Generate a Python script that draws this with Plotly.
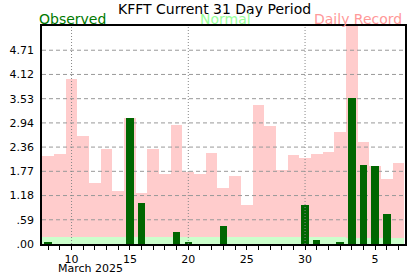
import plotly.graph_objects as go

# ---- data ----
dates = ["2025-03-08", "2025-03-09", "2025-03-10", "2025-03-11", "2025-03-12", "2025-03-13",
         "2025-03-14", "2025-03-15", "2025-03-16", "2025-03-17", "2025-03-18", "2025-03-19",
         "2025-03-20", "2025-03-21", "2025-03-22", "2025-03-23", "2025-03-24", "2025-03-25",
         "2025-03-26", "2025-03-27", "2025-03-28", "2025-03-29", "2025-03-30", "2025-03-31",
         "2025-04-01", "2025-04-02", "2025-04-03", "2025-04-04", "2025-04-05", "2025-04-06",
         "2025-04-07"]
record = [2.13, 2.19, 4.00, 2.62, 1.49, 2.31, 1.30, 3.06, 1.25, 2.31, 1.71, 2.89, 1.74, 1.69,
          2.22, 1.37, 1.66, 0.94, 3.37, 2.87, 1.81, 2.17, 2.09, 2.19, 2.24, 2.72, 5.60, 2.48,
          1.90, 1.59, 1.97]
normal = [0.17, 0.16, 0.17, 0.16, 0.16, 0.16, 0.17, 0.17, 0.17, 0.17, 0.17, 0.17, 0.17, 0.17,
          0.17, 0.17, 0.17, 0.17, 0.17, 0.17, 0.17, 0.17, 0.17, 0.17, 0.16, 0.16, 0.15, 0.15,
          0.15, 0.15, 0.15]
observed = [0.05, 0.0, 0.0, 0.0, 0.0, 0.0, 0.0, 3.06, 0.99, 0.0, 0.0, 0.30, 0.05, 0.0,
            0.0, 0.43, 0.0, 0.0, 0.0, 0.0, 0.0, 0.0, 0.96, 0.10, 0.0, 0.05, 3.54, 1.93,
            1.90, 0.72, 0.0]

y_max = 5.30
ytick_vals = [0.0, 0.589, 1.178, 1.767, 2.356, 2.944, 3.533, 4.122, 4.711, 5.30]
ytick_text = [".00", ".59", "1.18", "1.77", "2.36", "2.94", "3.53", "4.12", "4.71", ""]
xtick_vals = ["2025-03-10", "2025-03-15", "2025-03-20", "2025-03-25", "2025-03-30", "2025-04-05"]
xtick_text = ["10", "15", "20", "25", "30", "5"]
vline_dates = ["2025-03-10", "2025-03-20", "2025-03-30"]
x_range = ["2025-03-07 11:17", "2025-04-07 13:26"]

DAY_MS = 86400000
FONT = "DejaVu Sans"

fig = go.Figure()

# base layer: record + normal
fig.add_trace(go.Bar(x=dates, y=record, width=DAY_MS, marker=dict(color="#FFCCCC", line=dict(width=0)),
                     hoverinfo="skip", showlegend=False))
fig.add_trace(go.Bar(x=dates, y=normal, width=DAY_MS, marker=dict(color="#CCFFCC", line=dict(width=0)),
                     hoverinfo="skip", showlegend=False))

# horizontal dashed gridlines (above record bars, below observed bars)
for v in ytick_vals[1:-1]:
    fig.add_trace(go.Scatter(x=x_range, y=[v, v], mode="lines",
                             line=dict(color="#999999", width=1, dash="4px,3px"),
                             hoverinfo="skip", showlegend=False))

# overlay layer: observed + vertical dotted lines
fig.add_trace(go.Bar(x=dates, y=observed, width=DAY_MS * 0.64, marker=dict(color="#006600", line=dict(width=0)),
                     hoverinfo="skip", showlegend=False, xaxis="x2", yaxis="y2"))
for d in vline_dates:
    fig.add_trace(go.Scatter(x=[d, d], y=[0, y_max], mode="lines",
                             line=dict(color="#888888", width=1, dash="1px,2px"),
                             hoverinfo="skip", showlegend=False, xaxis="x2", yaxis="y2"))

fig.update_layout(
    width=417, height=276,
    margin=dict(l=35.5, r=10, t=26, b=30),
    paper_bgcolor="white", plot_bgcolor="white",
    barmode="overlay", bargap=0,
    font=dict(family=FONT, size=11, color="black"),
    xaxis=dict(type="date", range=x_range, tickvals=xtick_vals, ticktext=xtick_text,
               ticks="outside", ticklen=4, tickcolor="black", tickwidth=1,
               minor=dict(dtick=DAY_MS, tick0="2025-03-08", ticks="outside", ticklen=4,
                          tickcolor="black", tickwidth=1, showgrid=False),
               showgrid=False, zeroline=False, showline=True, linecolor="black", linewidth=1.5,
               mirror=True, tickfont=dict(size=11, family=FONT)),
    yaxis=dict(range=[0, y_max], tickvals=ytick_vals, ticktext=ytick_text, ticks="",
               ticklabelstandoff=4,
               showgrid=False, zeroline=False, showline=True, linecolor="black", linewidth=1.5,
               mirror=True, tickfont=dict(size=11, family=FONT)),
    xaxis2=dict(type="date", overlaying="x", range=x_range, visible=False),
    yaxis2=dict(overlaying="y", range=[0, y_max], visible=False),
    annotations=[
        dict(text="KFFT Current 31 Day Period", xref="paper", yref="paper", x=0.463, y=1.082,
             xshift=4, yshift=-1,
             xanchor="center", yanchor="middle", showarrow=False,
             font=dict(family=FONT, size=14, color="black")),
        dict(text="Observed", xref="paper", yref="paper", x=0, y=1.034, xshift=-5,
             xanchor="left", yanchor="middle", showarrow=False,
             font=dict(family=FONT, size=14, color="#007A00")),
        dict(text="Normal", xref="paper", yref="paper", x=0.506, y=1.034,
             xanchor="center", yanchor="middle", showarrow=False,
             font=dict(family=FONT, size=14, color="#99FF99")),
        dict(text="Daily Record", xref="paper", yref="paper", x=1, y=1.034, xshift=-1,
             xanchor="right", yanchor="middle", showarrow=False,
             font=dict(family=FONT, size=14, color="#FF9999")),
        dict(text="March 2025", xref="paper", yref="paper", x=0.047, y=0, yshift=-16,
             xanchor="left", yanchor="top", showarrow=False, xshift=-3,
             font=dict(family=FONT, size=11, color="black")),
    ],
)

fig.write_html("out.html")
